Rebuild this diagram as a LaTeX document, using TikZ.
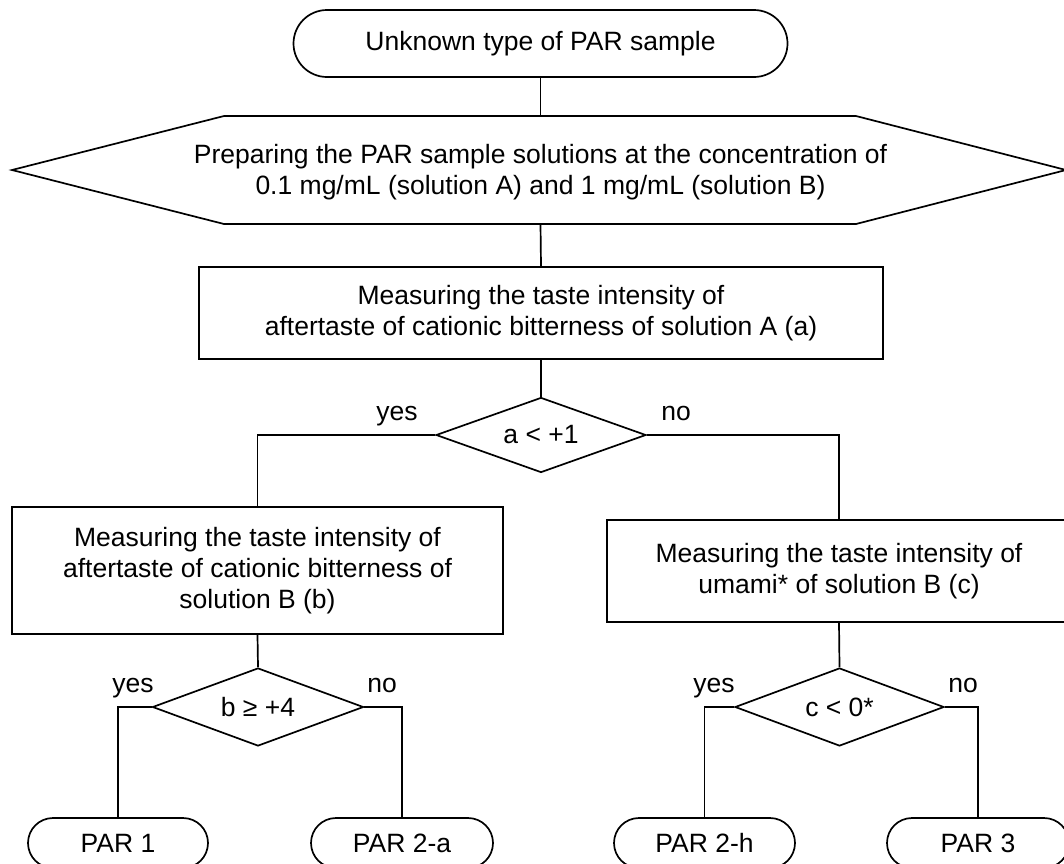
\documentclass[tikz,border=0pt]{standalone}
\usepackage{fontspec}
\setmainfont{Liberation Sans}
\usetikzlibrary{shapes.geometric,shapes.misc}
\begin{document}
\begin{tikzpicture}[x=1pt,y=-1pt,line width=1.7pt,
  every node/.style={font=\fontsize{26.5}{31}\selectfont,align=center,inner sep=0pt},
  termbox/.style={draw,rounded rectangle},
  procbox/.style={draw,rectangle},
  decbox/.style={draw,diamond,shape aspect=2.76},
  lbl/.style={font=\fontsize{26.5}{31}\selectfont,text height=19pt,text depth=5pt}]
\useasboundingbox (0,0) rectangle (1064,863);
\clip (0,0) rectangle (1064,863);

% start
\node[termbox,minimum width=494,minimum height=67] (start) at (540.5,43.5) {Unknown type of PAR sample};

% hexagon preparation
\coordinate (hexN) at (540.5,116);
\coordinate (hexS) at (540.5,224);
\draw (224,116) -- (856,116) -- (1066,170) -- (856,224) -- (224,224) -- (12,170) -- cycle;
\node (hex) at (540.5,172) {Preparing the PAR sample solutions at the concentration of\\0.1 mg/mL (solution A) and 1 mg/mL (solution B)};

% box 1
\node[procbox,minimum width=684,minimum height=92] (m1) at (541,313) {Measuring the taste intensity of\\aftertaste of cationic bitterness of solution A (a)};

% decision 1
\node[decbox,minimum width=210,minimum height=75] (d1) at (541,435) {a {<} +1};

% box 2
\node[procbox,minimum width=491,minimum height=127] (m2) at (257.5,570.5) {Measuring the taste intensity of\\aftertaste of cationic bitterness of\\solution B (b)};

% box 3
\node[procbox,minimum width=464,minimum height=102] (m3) at (839,571) {Measuring the taste intensity of\\umami* of solution B (c)};

% decision 2, 3
\node[decbox,minimum width=211,minimum height=78] (d2) at (258,707) {b ≥ +4};
\node[decbox,minimum width=209,minimum height=78] (d3) at (839.5,707) {c {<} 0*};

% terminals
\node[termbox,minimum width=180,minimum height=50] (t1) at (118,843) {PAR 1};
\node[termbox,minimum width=182,minimum height=50] (t2) at (402,843) {PAR 2-a};
\node[termbox,minimum width=181,minimum height=50] (t3) at (704.5,843) {PAR 2-h};
\node[termbox,minimum width=182,minimum height=50] (t4) at (978,843) {PAR 3};

% labels
\node[lbl] (y1) at (397,413) {yes};
\node[lbl] (n1) at (676,413) {no};
\node[lbl] (y2) at (133,685) {yes};
\node[lbl] (n2) at (382,685) {no};
\node[lbl] (y3) at (714,685) {yes};
\node[lbl] (n3) at (963,685) {no};

% connectors
\draw (start.south) -- (hexN);
\draw (hexS) -- (m1.north);
\draw (m1.south) -- (d1.north);
\draw (d1.west) -| (m2.north);
\draw (d1.east) -| (m3.north);
\draw (m2.south) -- (d2.north);
\draw (m3.south) -- (d3.north);
\draw (d2.west) -| (t1.north);
\draw (d2.east) -| (t2.north);
\draw (d3.west) -| (t3.north);
\draw (d3.east) -| (t4.north);
\end{tikzpicture}
\end{document}
